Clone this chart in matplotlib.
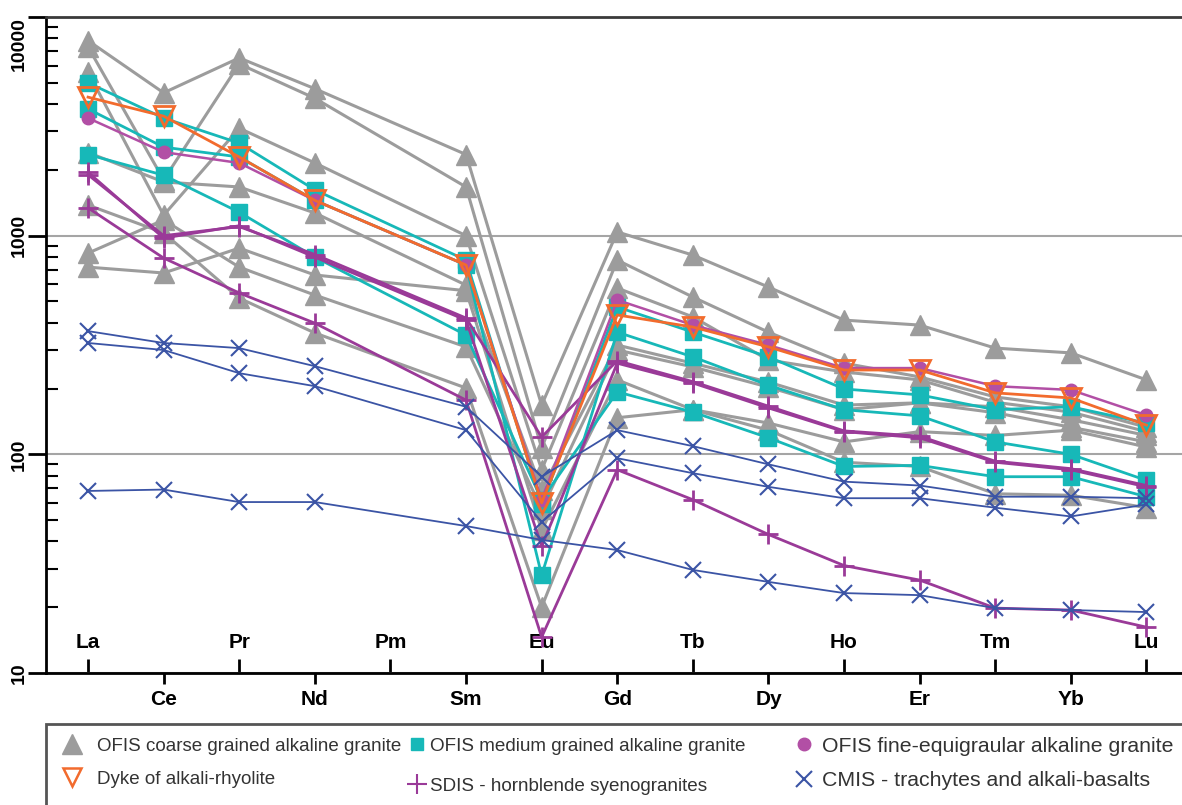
import matplotlib.pyplot as plt
from matplotlib.lines import Line2D
from matplotlib.patches import Rectangle
from matplotlib.ticker import NullFormatter

plt.rcParams['font.family'] = ['Liberation Sans', 'DejaVu Sans']

elements = ['La', 'Ce', 'Pr', 'Nd', 'Pm', 'Sm', 'Eu', 'Gd',
            'Tb', 'Dy', 'Ho', 'Er', 'Tm', 'Yb', 'Lu']

# chondrite-normalised REE patterns, Pm not analysed (None)
ofis_coarse = [
    [7800, 4500, 6500, 4700, None, 2350, 168, 1040, 815, 582, 411, 390, 306, 291, 219],
    [7300, 1800, 6100, 4250, None, 1670, 107, 773, 524, 362, 261, 226, 183, 165, 133],
    [5600, 1240, 3100, 2150, None, 1000, 85, 576, 425, 270, 238, 219, 173, 156, 127],
    [2400, 1760, 1670, 1270, None, 594, 69, 316, 261, 214, 168, 172, 165, 144, 122],
    [1380, 1030, 518, 359, None, 201, 20, 147, 160, 139, 114, 127, 122, 129, 108],
    [832, 1180, 718, 535, None, 310, 56, 300, 251, 203, 160, 172, 155, 133, 114],
    [718, 675, 877, 661, None, 560, 45, 219, 160, 129, 92, 88, 66, 65, 57],
]
ofis_medium = [
    [5000, 3450, 2650, 1620, None, 773, 59, 472, 362, 279, 199, 187, 160, 165, 139],
    [3800, 2540, 2290, 1450, None, 734, 28, 362, 279, 207, 160, 150, 114, 100, 76],
    [2350, 1890, 1280, 798, None, 351, 62, 193, 156, 119, 88, 89, 79, 79, 64],
]
ofis_fine = [
    [3450, 2410, 2150, 1450, None, 734, 62, 508, 390, 316, 248, 248, 205, 197, 151],
]
dyke = [
    [4300, 3520, 2290, 1450, None, 734, 60, 434, 382, 310, 243, 243, 191, 181, 136],
]
sdis = [
    [1950, 975, 1110, 798, None, 411, 38, 261, 212, 163, 127, 119, 92, 85, 71],
    [1900, 1000, 1100, 820, None, 420, 120, 268, 215, 166, 128, 121, 93, 86, 72],
    [1340, 790, 547, 398, None, 177, 14.6, 85, 62, 43, 31, 26.6, 19.8, 19.4, 16.2],
]
cmis = [
    [366, 323, 306, 253, None, 165, 79, 129, 109, 90, 75, 72, 64, 64, 63],
    [323, 300, 235, 205, None, 129, 49, 96, 82, 71, 63, 63, 57, 52, 59],
    [68, 69, 60.5, 60.5, None, 47, 40.6, 36.5, 29.6, 26.1, 23.2, 22.7, 19.8, 19.4, 19],
]

gray = '#9c9c9c'
teal = '#17b8b8'
pink = '#b24fa5'
orange = '#f26b2d'
purple = '#9a3a98'
blue = '#3b54a5'

styles = [
    (ofis_coarse, dict(color=gray, lw=2.2, marker='^', ms=15, zorder=2)),
    (ofis_medium, dict(color=teal, lw=2, marker='s', ms=11, zorder=3)),
    (sdis, dict(color=purple, lw=2, marker='+', ms=15, mew=2, zorder=4)),
    (ofis_fine, dict(color=pink, lw=1.8, marker='o', ms=9, zorder=5)),
    (dyke, dict(color=orange, lw=2, marker='v', ms=14, mfc='none', mew=2, zorder=6)),
    (cmis, dict(color=blue, lw=1.3, marker='x', ms=11, mew=1.5, zorder=7)),
]

fig = plt.figure(figsize=(11.82, 8.05), dpi=100)
ax = fig.add_axes([46 / 1182, 132 / 805, 1 - 46 / 1182, 656 / 805])

for group, st in styles:
    for sample in group:
        xs = [i for i, v in enumerate(sample) if v is not None]
        ys = [v for v in sample if v is not None]
        ax.plot(xs, ys, **st)

ax.set_yscale('log')
ax.set_ylim(10, 10000)
ax.set_xlim(-0.556, 14.47)

ax.set_yticks([10, 100, 1000, 10000], labels=['10', '100', '1000', '10000'],
              fontweight='bold', fontsize=14)
ax.yaxis.set_minor_formatter(NullFormatter())
for lab in ax.get_yticklabels():
    lab.set_rotation(90)
    lab.set_va('center')
ax.get_yticklabels()[-1].set_va('top')
ax.tick_params(axis='y', which='major', direction='out', length=13, width=2, pad=0)
ax.tick_params(axis='y', which='minor', direction='in', length=8.5, width=1.5)
ax.yaxis.grid(True, which='major', color='#a5a5a5', lw=1.5)
ax.set_axisbelow(True)

upper = list(range(0, 15, 2))
lower = list(range(1, 15, 2))
ax.set_xticks(upper, labels=[elements[i] for i in upper], fontweight='bold', fontsize=15)
ax.set_xticks(lower, labels=[elements[i] for i in lower], minor=True,
              fontweight='bold', fontsize=15)
ax.tick_params(axis='x', which='major', direction='in', length=10, width=2, pad=-29)
ax.tick_params(axis='x', which='minor', direction='out', length=8, width=2, pad=4)

ax.spines['right'].set_visible(False)
ax.spines['top'].set_color('#3a3a3a')
for side in ['top', 'left', 'bottom']:
    ax.spines[side].set_linewidth(2)

# legend box, cut by the lower and right edges
fig.add_artist(Rectangle((46 / 1182, -0.02), 1.0, 81 / 805 + 0.02, transform=fig.transFigure,
                         fill=False, edgecolor='#555555', lw=2))

def handle(**kw):
    return Line2D([], [], ls='none', **kw)

# x of legend left, top y, font size, handle length, text pad, row spacing
legend_cols = [
    (61, 737.5, 13.5, 1.2, 0.73, 0.86,
     [handle(marker='^', ms=14, color=gray),
      handle(marker='v', ms=13, color=orange, mfc='none', mew=1.8)],
     ['OFIS coarse grained alkaline granite', 'Dyke of alkali-rhyolite']),
    (407.5, 737.5, 13.6, 1.0, 0.19, 1.22,
     [handle(marker='s', ms=8, color=teal),
      handle(marker='+', ms=15, color=purple, mew=1.5)],
     ['OFIS medium grained alkaline granite', 'SDIS - hornblende syenogranites']),
    (795.5, 736.5, 15.3, 0.8, 0.45, 0.75,
     [handle(marker='o', ms=9, color=pink),
      handle(marker='x', ms=11, color=blue, mew=1.5)],
     ['OFIS fine-equigraular alkaline granite', 'CMIS - trachytes and alkali-basalts']),
]
for x0, y0, fs, hl, tpad, ls, hs, labels in legend_cols:
    fig.legend(hs, labels, loc='upper left', bbox_to_anchor=(x0 / 1182, (805 - y0) / 805),
               frameon=False, fontsize=fs, handlelength=hl, handletextpad=tpad,
               labelspacing=ls, borderpad=0, borderaxespad=0, labelcolor='#333333')

fig.savefig('out.png', dpi=100)
